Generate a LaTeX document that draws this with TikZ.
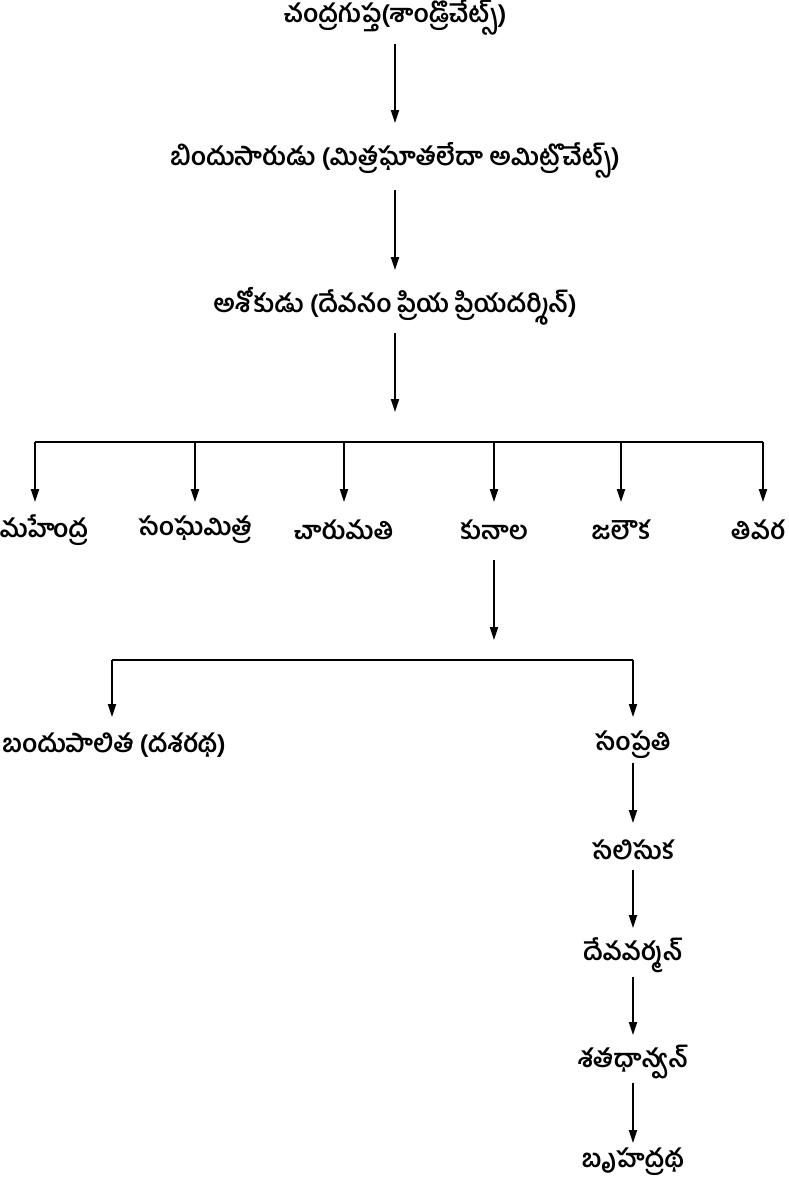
\documentclass[tikz,border=0pt]{standalone}
\usepackage{fontspec}
\newfontfamily\telugu[Script=Telugu]{Hind Guntur}
\usetikzlibrary{arrows.meta}

\tikzset{
  raju/.style={font=\telugu\bfseries\fontsize{25}{29}\selectfont, inner sep=0pt},
  arr/.style={-{Triangle[length=13pt,width=8pt]}, line width=1.8pt},
  bar/.style={line width=1.8pt},
}

\begin{document}
\begin{tikzpicture}[x=1pt, y=-1pt]
        \useasboundingbox (0, 0) rectangle (788, 1186);

        \node[raju] (chandra) at (395, 18) {చంద్రగుప్త(శాండ్రొచేట్స్)};
        \node[raju] (bindu) at (395, 160) {బిందుసారుడు (మిత్రఘాతలేదా అమిట్రొచేట్స్)};
        \node[raju] (ashoka) at (395, 306) {అశోకుడు (దేవనం ప్రియ ప్రియదర్శిన్)};
        \coordinate (s1) at (395, 412);

        \coordinate (b1l) at (35, 442);
        \coordinate (b1r) at (763, 442);
        \node[raju] (mahendra) at (44, 530) {మహేంద్ర};
        \node[raju] (sangha) at (195, 530) {సంఘమిత్ర};
        \node[raju] (charu) at (344, 530) {చారుమతి};
        \node[raju] (kunala) at (494, 530) {కునాల};
        \node[raju] (jalauka) at (621, 530) {జలౌక};
        \node[raju] (tivara) at (758, 530) {తివర};
        \coordinate (s2) at (494, 640);

        \coordinate (b2l) at (112, 660);
        \coordinate (b2r) at (633, 660);
        \node[raju] (bandu) at (114, 745) {బందుపాలిత (దశరథ)};
        \node[raju] (samprati) at (633, 745) {సంప్రతి};
        \node[raju] (salisuka) at (633, 850) {సలిసుక};
        \node[raju] (deva) at (633, 955) {దేవవర్మన్};
        \node[raju] (shata) at (633, 1062) {శతధాన్వన్};
        \node[raju] (bruhad) at (633, 1162) {బృహద్రథ};

        \draw[arr, shorten <=26pt, shorten >=37pt] (chandra.center) -- (bindu.center);
        \draw[arr, shorten <=30pt, shorten >=36pt] (bindu.center) -- (ashoka.center);
        \draw[arr, shorten <=27pt] (ashoka.center) -- (s1);

        \draw[bar] (b1l) -- (b1r);
        \draw[arr, shorten >=28pt] (b1l) -- (b1l |- mahendra.center);
        \foreach \k in {sangha, charu, kunala, jalauka}
          \draw[arr, shorten >=28pt] (\k |- b1l) -- (\k.center);
        \draw[arr, shorten >=28pt] (b1r) -- (b1r |- tivara.center);
        \draw[arr, shorten <=30pt] (kunala.center) -- (s2);

        \draw[bar] (b2l) -- (b2r);
        \draw[arr, shorten >=28pt] (b2l) -- (b2l |- bandu.center);
        \draw[arr, shorten >=28pt] (b2r) -- (samprati.center);
        \draw[arr, shorten <=18pt, shorten >=27pt] (samprati.center) -- (salisuka.center);
        \draw[arr, shorten <=20pt, shorten >=27pt] (salisuka.center) -- (deva.center);
        \draw[arr, shorten <=22pt, shorten >=27pt] (deva.center) -- (shata.center);
        \draw[arr, shorten <=21pt, shorten >=19pt] (shata.center) -- (bruhad.center);
      \end{tikzpicture}
\end{document}
